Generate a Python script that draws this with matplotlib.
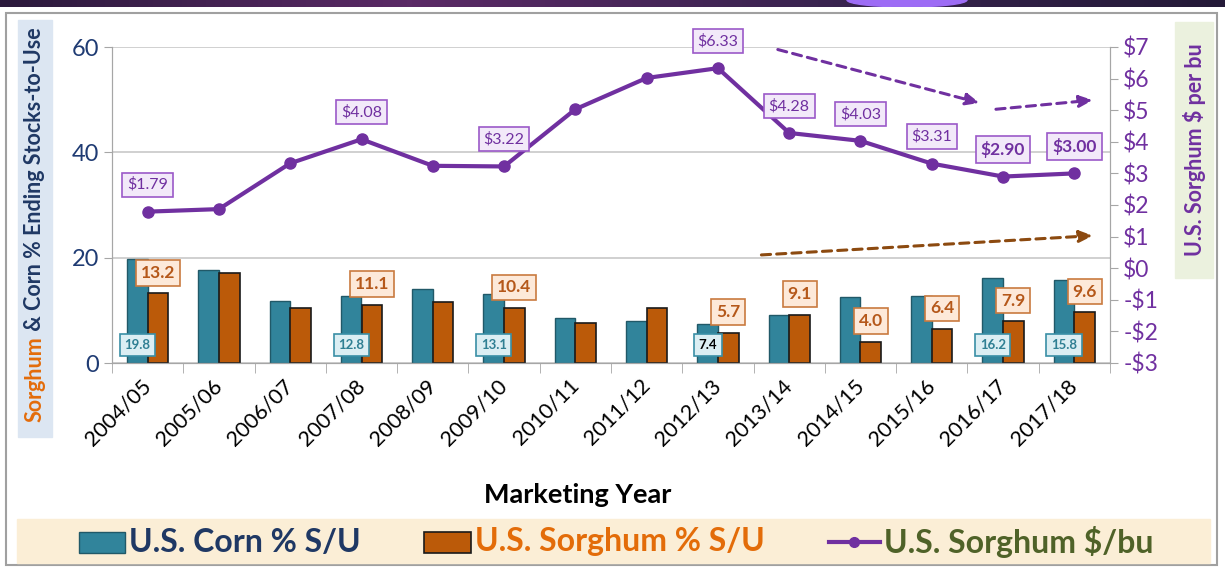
import numpy as np
import matplotlib.pyplot as plt
from matplotlib.patches import Rectangle
from matplotlib.lines import Line2D

plt.rcParams['font.family'] = ['Lato', 'DejaVu Sans']

years = ['2004/05', '2005/06', '2006/07', '2007/08', '2008/09', '2009/10', '2010/11',
         '2011/12', '2012/13', '2013/14', '2014/15', '2015/16', '2016/17', '2017/18']
corn_su = [19.8, 17.7, 11.7, 12.8, 14.0, 13.1, 8.6, 8.0, 7.4, 9.2, 12.6, 12.8, 16.2, 15.8]
sorghum_su = [13.2, 17.0, 10.4, 11.1, 11.5, 10.4, 7.6, 10.4, 5.7, 9.1, 4.0, 6.4, 7.9, 9.6]
sorghum_price = [1.79, 1.87, 3.32, 4.08, 3.24, 3.22, 5.03, 6.02, 6.33, 4.28, 4.03, 3.31, 2.90, 3.00]

price_lab_idx = [0, 3, 5, 8, 9, 10, 11, 12, 13]
corn_lab_idx = [0, 3, 5, 8, 12, 13]
sorg_lab_idx = [0, 3, 5, 8, 9, 10, 11, 12, 13]

right_ticks = list(range(-3, 8))
right_labels = [('-$%d' % -v) if v < 0 else ('$%d' % v) for v in right_ticks]

W, H = 1225, 571
teal = '#31849b'
orange = '#bb5a09'
purple = '#7030a0'
gray = '#a6a6a6'


def fx(px):
    return px / W


def fy(py):
    return 1 - py / H


fig = plt.figure(figsize=(W / 100, H / 100), dpi=100)

# decoration: top strip, outer frame, label boxes, legend band
grad = fig.add_axes([0, fy(7), 1, 7 / H])
grad.imshow(np.linspace(0, 1, 256)[None, :], aspect='auto', extent=(0, 1, 0, 1),
            cmap=plt.matplotlib.colors.LinearSegmentedColormap.from_list(
                'top', ['#2b1a3c', '#5b2a66', '#3a2450', '#241a38']))
grad.add_patch(plt.matplotlib.patches.Ellipse((907 / W, 1.0), 120 / W, 2.0,
                                              color='#9d6cf5'))
grad.set_xlim(0, 1)
grad.set_ylim(0, 1)
grad.axis('off')

fig.patches.append(Rectangle((fx(6), fy(565)), 1211 / W, 552 / H, transform=fig.transFigure,
                             fill=False, ec='#a0a0a0', lw=1.5, zorder=0))
fig.patches.append(Rectangle((fx(18), fy(437)), 34 / W, 417 / H, transform=fig.transFigure,
                             color='#dce6f2', zorder=0))
fig.patches.append(Rectangle((fx(1175), fy(278)), 38 / W, 256 / H, transform=fig.transFigure,
                             color='#ebf1de', zorder=0))
fig.patches.append(Rectangle((fx(17), fy(563)), 1193 / W, 44 / H, transform=fig.transFigure,
                             color='#fbeed6', zorder=0))

ax = fig.add_axes([fx(112), fy(363), (1110 - 112) / W, (363 - 47) / H])
x = np.arange(len(years))
bw = 0.29
ax.bar(x - bw / 2, corn_su, bw, color=teal, edgecolor='#215968', lw=1)
ax.bar(x + bw / 2, sorghum_su, bw, color=orange, edgecolor='#1a1a1a', lw=1.2)
ax.set_xlim(-0.5, len(years) - 0.5)
ax.set_ylim(0, 60)
ax.set_yticks([0, 20, 40, 60])
ax.yaxis.grid(True, color='#c8c8c8', lw=1.2)
ax.set_axisbelow(True)
ax.tick_params(axis='y', length=6, color=gray, labelcolor='#1f3b73', labelsize=17)
ax.set_xticks(x)
ax.set_xticklabels(years, rotation=45, ha='right', va='center', rotation_mode='anchor',
                   fontsize=15.5)
ax.tick_params(axis='x', which='major', length=0, pad=14)
ax.set_xticks(np.arange(-0.5, len(years)), minor=True)
ax.tick_params(axis='x', which='minor', length=7, color=gray)
ax.spines['top'].set_visible(False)
for s in ['left', 'bottom', 'right']:
    ax.spines[s].set_color(gray)

ax2 = ax.twinx()
ax2.plot(x, sorghum_price, color=purple, lw=3, marker='o', ms=8)
ax2.set_ylim(-3, 7)
ax2.set_yticks(right_ticks)
ax2.set_yticklabels(right_labels)
ax2.tick_params(axis='y', length=6, color=gray, labelcolor=purple, labelsize=16.5)
ax2.spines['top'].set_visible(False)
for s in ['left', 'bottom', 'right']:
    ax2.spines[s].set_color(gray)

# data labels
for i in price_lab_idx:
    bold = i >= 12
    ax2.annotate('$%.2f' % sorghum_price[i], (x[i], sorghum_price[i]), xytext=(0, 19.5),
                 textcoords='offset points', ha='center', va='center',
                 fontsize=12.5 if bold else 11.5, fontweight='bold' if bold else 'normal',
                 color=purple,
                 bbox=dict(boxstyle='square,pad=0.3', fc='#f2e9f9', ec='#9b59c8', lw=1.2))
for i in sorg_lab_idx:
    ax.annotate('%.1f' % sorghum_su[i], (x[i] + bw / 2, sorghum_su[i]), xytext=(0, 15),
                textcoords='offset points', ha='center', va='center', fontsize=12.5,
                fontweight='bold', color='#b5581a',
                bbox=dict(boxstyle='square,pad=0.28', fc='#fde9d9', ec='#c97a3f', lw=1.2))
for i in corn_lab_idx:
    ax.annotate('%.1f' % corn_su[i], (x[i] - bw / 2, 0), xytext=(0, 13),
                textcoords='offset points', ha='center', va='center', fontsize=9.5,
                fontweight='bold', color='black' if i == 8 else '#2f7f93',
                bbox=dict(boxstyle='square,pad=0.35', fc='#dbeef3', ec='#3a8fa6', lw=1.2))

# trend arrows
arrow_style = '-|>,head_length=0.8,head_width=0.35'
ax2.annotate('', xy=(11.67, 5.23), xytext=(8.84, 6.92),
             arrowprops=dict(arrowstyle=arrow_style, color=purple,
                             lw=2.2, linestyle=(0, (3, 2)), shrinkA=0, shrinkB=0))
ax2.annotate('', xy=(13.26, 5.32), xytext=(11.9, 5.03),
             arrowprops=dict(arrowstyle=arrow_style, color=purple,
                             lw=2.2, linestyle=(0, (3, 2)), shrinkA=0, shrinkB=0))
ax2.annotate('', xy=(13.26, 1.03), xytext=(8.61, 0.42),
             arrowprops=dict(arrowstyle=arrow_style, color='#8c4a10',
                             lw=2.2, linestyle=(0, (3, 2)), shrinkA=0, shrinkB=0))

# axis titles
renderer = fig.canvas.get_renderer()
t1 = fig.text(fx(35), fy(422), 'Sorghum', rotation=90, ha='center', va='bottom',
              fontsize=15.5, fontweight='bold', color='#e46c0a')
bb = t1.get_window_extent(renderer)
fig.text(fx(35), bb.y1 / H, ' & Corn % Ending Stocks-to-Use', rotation=90, ha='center',
         va='bottom', fontsize=15.5, fontweight='bold', color='#1f3864')
fig.text(fx(1194), fy(150), 'U.S. Sorghum $ per bu', rotation=90, ha='center', va='center',
         fontsize=15.5, fontweight='bold', color=purple)
fig.text(fx(578), fy(495), 'Marketing Year', ha='center', va='center', fontsize=19.5,
         fontweight='bold', color='black')

# legend
fig.patches.append(Rectangle((fx(79), fy(553)), 46 / W, 21 / H, transform=fig.transFigure,
                             fc=teal, ec='#215968', lw=1))
fig.text(fx(129), fy(542), 'U.S. Corn % S/U', ha='left', va='center', fontsize=23,
         fontweight='bold', color='#1f3864')
fig.patches.append(Rectangle((fx(424), fy(553)), 47 / W, 21 / H, transform=fig.transFigure,
                             fc=orange, ec='#1a1a1a', lw=1.2))
fig.text(fx(475), fy(542), 'U.S. Sorghum % S/U', ha='left', va='center', fontsize=23,
         fontweight='bold', color='#e36c09')
fig.lines.append(Line2D([fx(829), fx(880)], [fy(542), fy(542)], transform=fig.transFigure,
                        color=purple, lw=3))
fig.lines.append(Line2D([fx(854)], [fy(542)], transform=fig.transFigure,
                        color=purple, marker='o', ms=7, lw=0))
fig.text(fx(884), fy(542), 'U.S. Sorghum $/bu', ha='left', va='center', fontsize=23,
         fontweight='bold', color='#4f6228')

fig.savefig('out.png', dpi=100)
